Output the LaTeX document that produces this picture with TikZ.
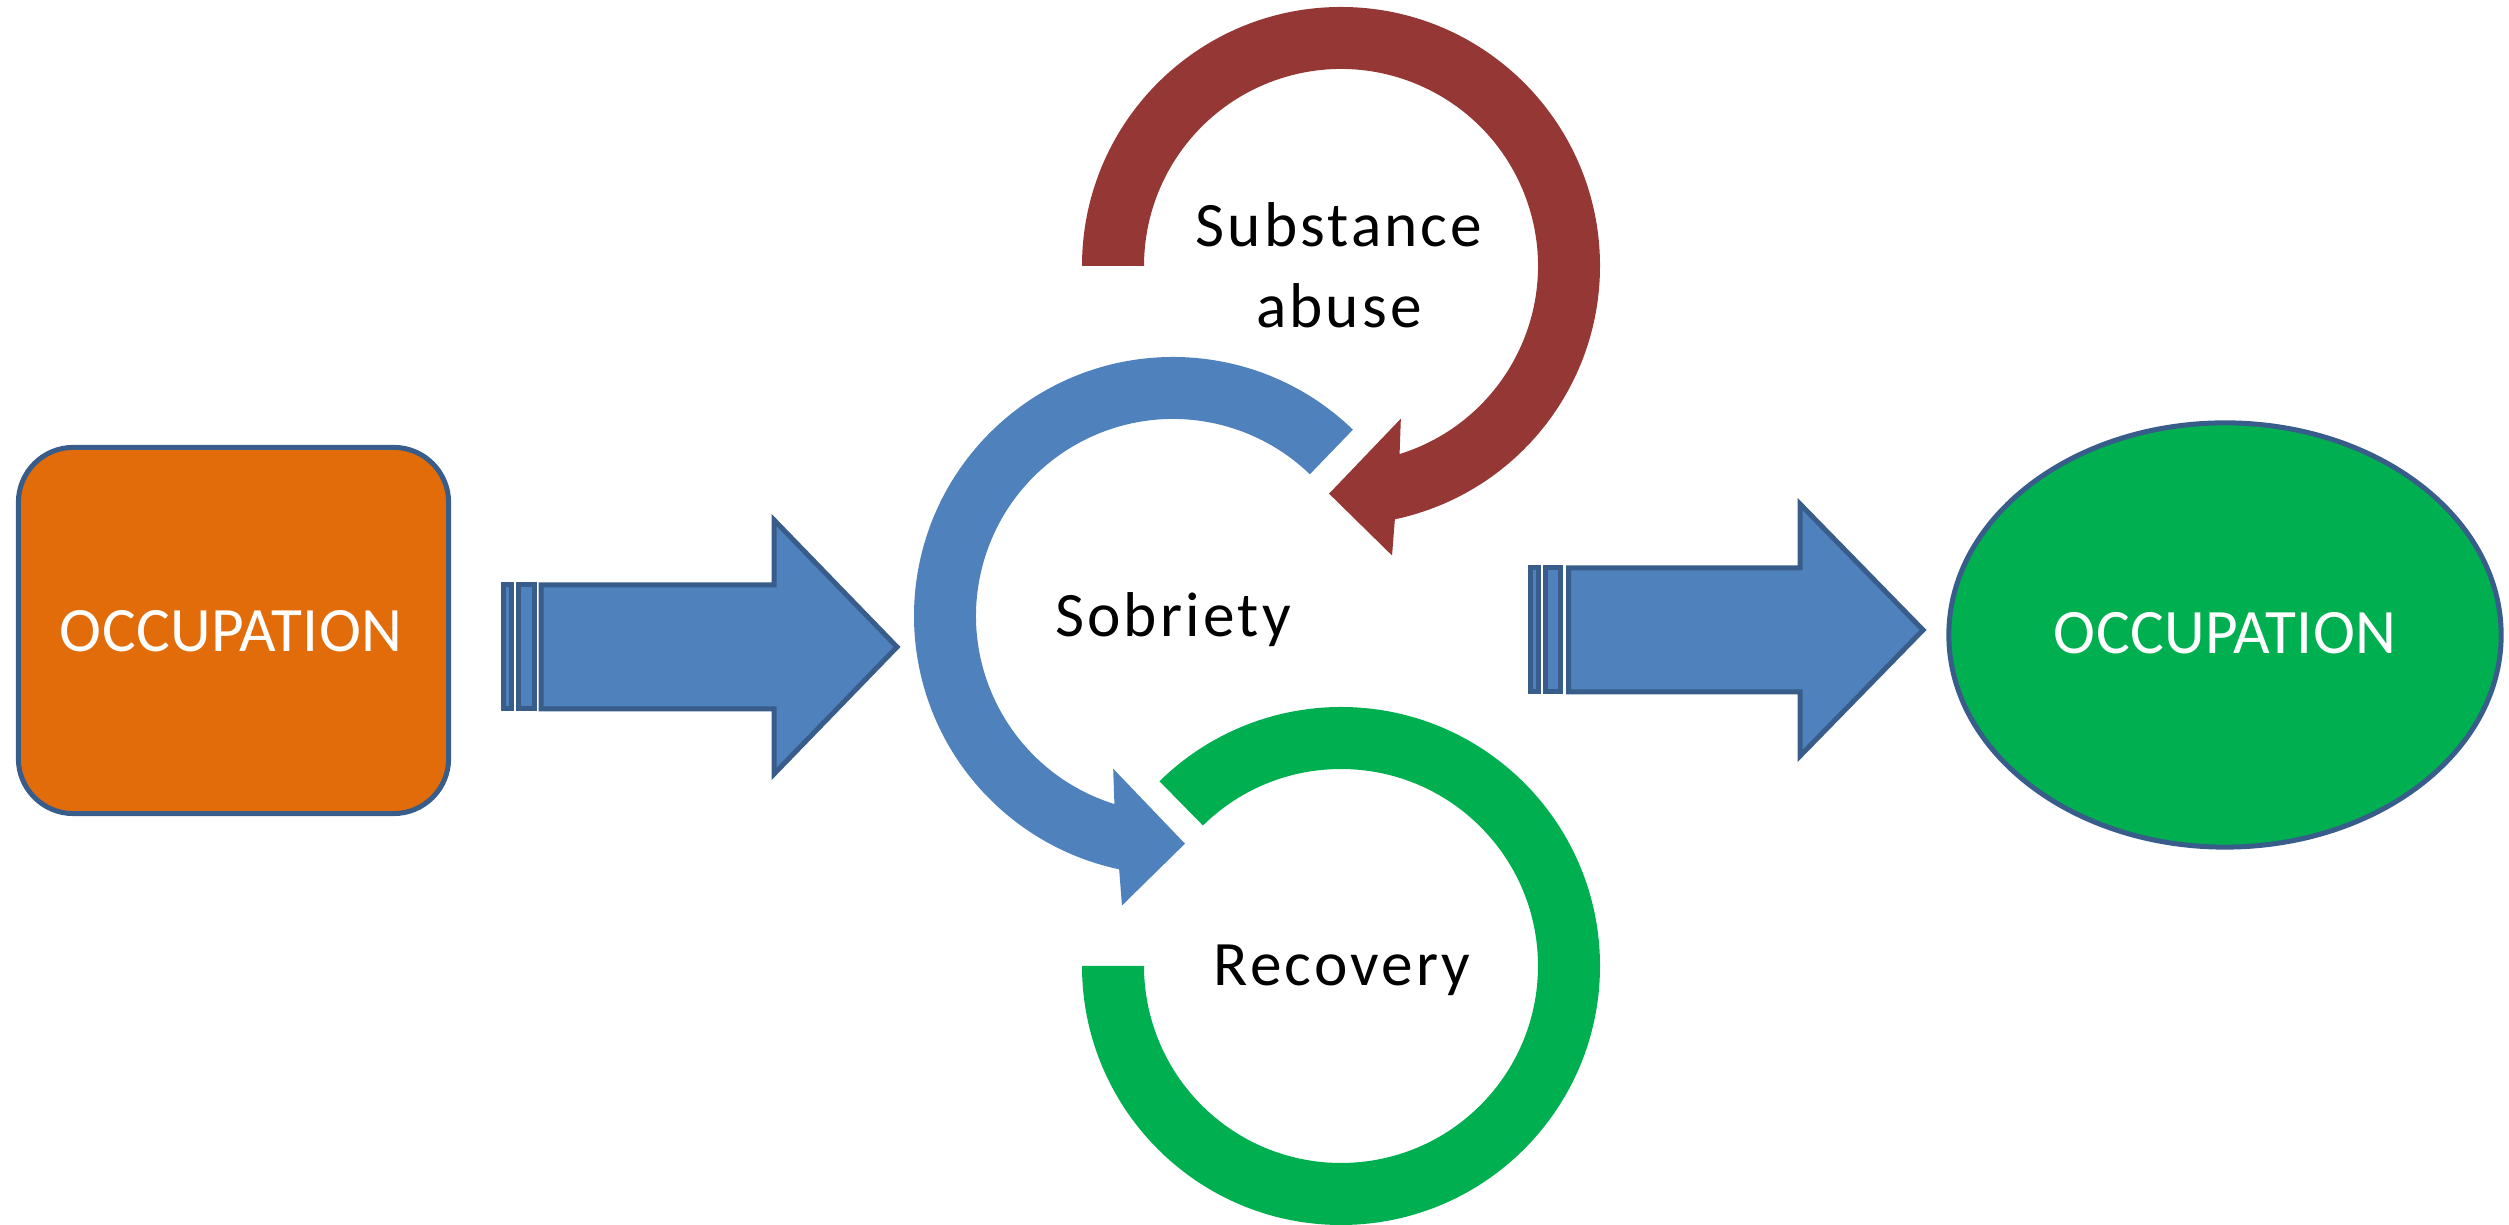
\documentclass[tikz,border=0pt]{standalone}
\usepackage{fontspec}
\setmainfont{Carlito}[LetterSpace=5]
\newfontfamily\capsfont{Carlito}[LetterSpace=0.5]
\definecolor{bordblue}{RGB}{56,93,138}
\definecolor{arrblue}{RGB}{79,129,189}
\definecolor{occorange}{RGB}{227,108,10}
\definecolor{occgreen}{RGB}{0,176,80}
\definecolor{abusered}{RGB}{149,55,53}
\usetikzlibrary{shapes.geometric}
\begin{document}
\begin{tikzpicture}[x=0.01cm,y=0.01cm,
  edge/.style={draw=bordblue, line width=0.05cm, line join=miter},
  blockarrow/.style={edge, fill=arrblue},
  lbl/.style={font=\fontsize{18}{22}\selectfont, anchor=base, inner sep=0pt},
  wlbl/.style={font=\capsfont\fontsize{18}{22}\selectfont, anchor=base, inner sep=0pt, text=white}]
\useasboundingbox (0,0) rectangle (2509,1225);
% left occupation box
\node[edge, fill=occorange, rounded corners=0.55cm, minimum width=4.30cm,
      minimum height=3.66cm, inner sep=0pt] (occL) at (233.5,594.5) {};
\node[wlbl] (occLtxt) at (231,573) {OCCUPATION};
% right occupation ellipse
\node[edge, fill=occgreen, ellipse, minimum width=5.52cm, minimum height=4.24cm,
      inner sep=0pt] (occR) at (2225,590) {};
\node[wlbl] (occRtxt) at (2225,571) {OCCUPATION};
% left block arrow
\draw[blockarrow] (503.5,516) rectangle (511.5,640);
\draw[blockarrow] (518.5,516) rectangle (534.5,640);
\draw[blockarrow] (541,516) -- (774,516) -- (774,451) -- (897,578) -- (774,705)
   -- (774,640) -- (541,640) -- cycle;
% right block arrow
\draw[blockarrow] (1530.5,533) rectangle (1538.5,657);
\draw[blockarrow] (1545.5,533) rectangle (1560.5,657);
\draw[blockarrow] (1568.5,533) -- (1800,533) -- (1800,469) -- (1923,595) -- (1800,721)
   -- (1800,657) -- (1568.5,657) -- cycle;
% substance abuse (red)
\begin{scope}[shift={(1341,959)}]
\fill[abusered] (180:259) arc[start angle=180,end angle=-78,radius=259]
  -- (-80:294) -- (-93:228) -- (-68.6:164) -- (-72.7:197)
  arc[start angle=-72.7,end angle=180,radius=197] -- cycle;
\end{scope}
% sobriety (blue)
\begin{scope}[shift={(1173,609)}]
\fill[arrblue] (46:259) arc[start angle=46,end angle=258,radius=259]
  -- (260:294) -- (273:228) -- (248.6:164) -- (252.7:197)
  arc[start angle=252.7,end angle=46,radius=197] -- cycle;
\end{scope}
% recovery (green)
\begin{scope}[shift={(1341,259)}]
\fill[occgreen] (180:259) arc[start angle=180,end angle=494.5,radius=259]
  -- (494.5:197) arc[start angle=494.5,end angle=180,radius=197] -- cycle;
\end{scope}
% labels
\node[lbl] (subst) at (1339,978) {Substance};
\node[lbl] (abuse) at (1339,897) {abuse};
\node[lbl] (sobr) at (1173,588) {Sobriety};
\node[lbl] (recov) at (1342,239) {Recovery};
\end{tikzpicture}
\end{document}
